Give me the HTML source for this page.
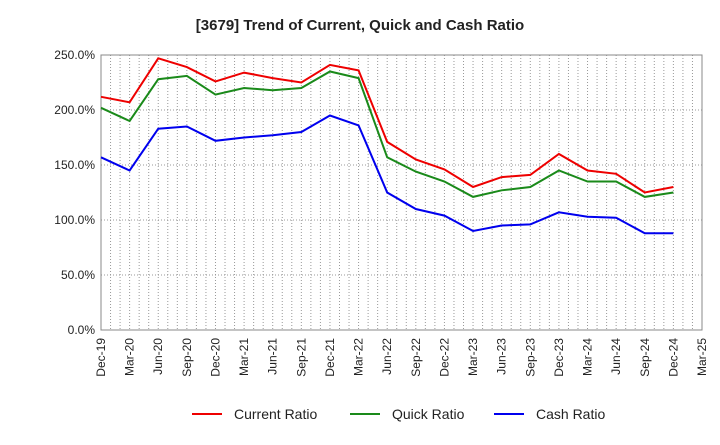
<!DOCTYPE html>
<html><head><meta charset="utf-8"><style>
body{margin:0;background:#fff;font-family:"Liberation Sans",sans-serif}
svg text{font-family:"Liberation Sans",sans-serif}
</style></head><body>
<svg width="720" height="440" id="c">
<text x="360" y="30" text-anchor="middle" font-size="15" font-weight="bold" fill="#222">[3679]  Trend of Current, Quick and Cash Ratio</text>
<g id="grid"></g><g id="axes"></g><g id="series"></g>
<g>
<line x1="192" y1="414" x2="222" y2="414" stroke="#e00" stroke-width="2"/><text x="234" y="419" font-size="14" fill="#222">Current Ratio</text>
<line x1="350" y1="414" x2="380" y2="414" stroke="#1a8a1a" stroke-width="2"/><text x="392" y="419" font-size="14" fill="#222">Quick Ratio</text>
<line x1="494" y1="414" x2="524" y2="414" stroke="#00e" stroke-width="2"/><text x="536" y="419" font-size="14" fill="#222">Cash Ratio</text>
</g>
</svg>
<script>
const xLabels=["Dec-19","Mar-20","Jun-20","Sep-20","Dec-20","Mar-21","Jun-21","Sep-21","Dec-21","Mar-22","Jun-22","Sep-22","Dec-22","Mar-23","Jun-23","Sep-23","Dec-23","Mar-24","Jun-24","Sep-24","Dec-24","Mar-25"];
const yTicks=[0,50,100,150,200,250];
const currentRatio=[212,207,247,239,226,234,229,225,241,236,171,155,146,130,139,141,160,145,142,125,130];
const quickRatio=[202,190,228,231,214,220,218,220,235,229,157,144,135,121,127,130,145,135,135,121,125];
const cashRatio=[157,145,183,185,172,175,177,180,195,186,125,110,104,90,95,96,107,103,102,88,88];
const L=101,R=702,T=55,B=330;
const xs=i=>L+i*(R-L)/(xLabels.length-1);
const ys=v=>B-(v/250)*(B-T);
const NS="http://www.w3.org/2000/svg";
function mk(t,a,p){const e=document.createElementNS(NS,t);for(const k in a)e.setAttribute(k,a[k]);p.appendChild(e);return e;}
const grid=document.getElementById('grid'),axes=document.getElementById('axes'),ser=document.getElementById('series');
for(let m=0;m<=(xLabels.length-1)*3;m++){
 const gx=xs(m/3);
 const g=mk('line',{x1:gx,x2:gx,y1:T,y2:B,stroke:'#999','stroke-dasharray':'1,2'},grid);
 
 
}
xLabels.forEach((l,i)=>{
 const x=xs(i);
 const t=mk('text',{x:x+4,y:B+8,'font-size':'12',fill:'#222','text-anchor':'end',transform:`rotate(-90 ${x+4} ${B+8})`},axes);
 t.textContent=l;
 
 
});
yTicks.forEach(v=>{
 const g=mk('line',{x1:L,x2:R,y1:ys(v),y2:ys(v),stroke:'#999','stroke-dasharray':'1,2'},grid);
 
 
 const t=mk('text',{x:L-6,y:ys(v)+4,'font-size':'12',fill:'#222','text-anchor':'end'},axes);
 t.textContent=v.toFixed(1)+'%';
 
 
});
const fr=mk('rect',{x:L,y:T,width:R-L,height:B-T,fill:'none',stroke:'#888'},axes);


[[currentRatio,'#e00','current-ratio-line'],[quickRatio,'#1a8a1a','quick-ratio-line'],[cashRatio,'#00e','cash-ratio-line']].forEach(([d,c,n])=>{
 const p=mk('polyline',{points:d.map((v,i)=>xs(i)+','+ys(v)).join(' '),fill:'none',stroke:c,'stroke-width':2},ser);
 
 
});
</script>
</body></html>
